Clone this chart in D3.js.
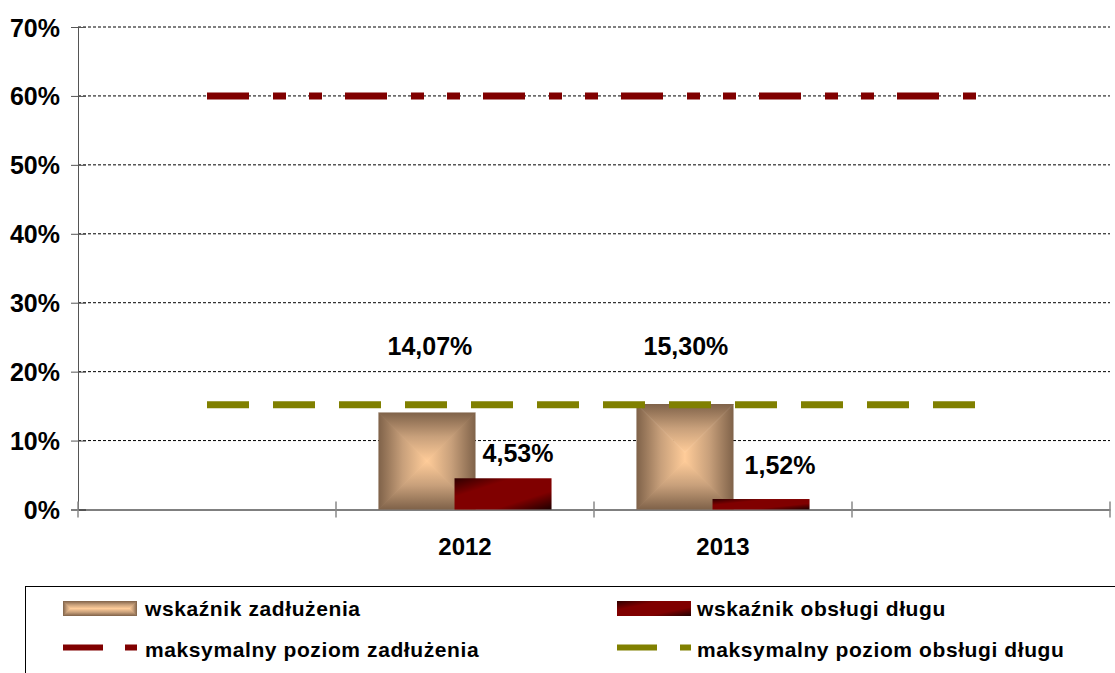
<!DOCTYPE html>
<html>
<head>
<meta charset="utf-8">
<script src="https://cdn.jsdelivr.net/npm/d3@7"></script>
<style>
  body { margin: 0; background: #fff; }
  text { font-family: "Liberation Sans", Arial, sans-serif; font-weight: bold; fill: #000; }
</style>
</head>
<body>
<div id="chart"></div>
<script>
// data
const CATEGORIES = ['', '2012', '2013', ' '];
const DEBT_RATIO = [null, 14.07, 15.30, null];      // wskaźnik zadłużenia
const SERVICE_RATIO = [null, 4.53, 1.52, null];     // wskaźnik obsługi długu
const MAX_DEBT = [60, 60, 60, 60];                  // maksymalny poziom zadłużenia
const MAX_SERVICE = [15.2, 15.2, 15.2, 15.2];       // maksymalny poziom obsługi długu
const Y_TICKS = [0, 10, 20, 30, 40, 50, 60, 70];
const SERIES_NAMES = ['wskaźnik zadłużenia', 'wskaźnik obsługi długu',
                      'maksymalny poziom zadłużenia', 'maksymalny poziom obsługi długu'];

const width = 1115, height = 673;
const plot = { left: 78, right: 1110, top: 27, bottom: 509.5 };

const pl = d3.formatLocale({ decimal: ',', thousands: ' ', grouping: [3], currency: ['', ' zł'] });
const fmt = pl.format('.2f');

const x = d3.scaleBand().domain(CATEGORIES).range([plot.left, plot.right]).padding(0);
const y = d3.scaleLinear().domain([0, 70]).range([plot.bottom, plot.top]);

const svg = d3.select('#chart').append('svg')
  .attr('width', width).attr('height', height);

const defs = svg.append('defs');

// pyramid ("from centre") gradient pieces
const EDGE = '#7f6249', HALF = '#c8a07b', MID = '#ffcc99';
function lin(id, x1, y1, x2, y2) {
  const g = defs.append('linearGradient').attr('id', id)
    .attr('x1', x1).attr('y1', y1).attr('x2', x2).attr('y2', y2);
  g.append('stop').attr('offset', 0).attr('stop-color', EDGE);
  g.append('stop').attr('offset', 0.5).attr('stop-color', HALF);
  g.append('stop').attr('offset', 1).attr('stop-color', MID);
}
lin('pTop', 0, 0, 0, 1);
lin('pBot', 0, 1, 0, 0);
lin('pLeft', 0, 0, 1, 0);
lin('pRight', 1, 0, 0, 0);

const red = defs.append('linearGradient').attr('id', 'redDiag')
  .attr('x1', 0).attr('y1', 0).attr('x2', 1).attr('y2', 1);
[[0, '#2e0000'], [0.3, '#800000'], [0.7, '#800000'], [1, '#1e0000']].forEach(s =>
  red.append('stop').attr('offset', s[0]).attr('stop-color', s[1]));

function pyramid(g, x0, y0, x1, y1) {
  const d = Math.min(x1 - x0, y1 - y0) / 2;
  const parts = [
    ['pTop', [[x0, y0], [x1, y0], [x1 - d, y0 + d], [x0 + d, y0 + d]]],
    ['pBot', [[x0, y1], [x1, y1], [x1 - d, y1 - d], [x0 + d, y1 - d]]],
    ['pLeft', [[x0, y0], [x0 + d, y0 + d], [x0 + d, y1 - d], [x0, y1]]],
    ['pRight', [[x1, y0], [x1 - d, y0 + d], [x1 - d, y1 - d], [x1, y1]]]
  ];
  const clip = 'pc' + Math.round(x0) + '_' + Math.round(y0);
  defs.append('clipPath').attr('id', clip).append('rect')
    .attr('x', x0).attr('y', y0).attr('width', x1 - x0).attr('height', y1 - y0);
  const inner = g.append('g').attr('clip-path', `url(#${clip})`);
  parts.forEach(([id, pts]) => inner.append('polygon')
    .attr('points', pts.map(p => p.join(',')).join(' '))
    .attr('fill', `url(#${id})`).attr('stroke', `url(#${id})`).attr('stroke-width', 0.8));
}

// gridlines
svg.append('g').selectAll('line').data(Y_TICKS.filter(t => t > 0)).join('line')
  .attr('x1', plot.left).attr('x2', plot.right)
  .attr('y1', d => y(d)).attr('y2', d => y(d))
  .attr('stroke', '#000').attr('stroke-width', 1).attr('stroke-dasharray', '3,2');

// y axis
const yAxis = svg.append('g').attr('transform', `translate(${plot.left},0)`)
  .call(d3.axisLeft(y).tickValues(Y_TICKS).tickFormat(d => d + '%').tickSize(7).tickPadding(10));
yAxis.select('.domain').attr('stroke', '#555');
yAxis.selectAll('.tick line').attr('stroke', '#555').attr('x2', 8).attr('x1', -7);
yAxis.selectAll('.tick text').attr('font-size', 25).attr('x', -18).attr('dy', '0.36em')
  .style('font-family', '"Liberation Sans", Arial, sans-serif').style('font-weight', 'bold');

// x axis
const xAxis = svg.append('g').attr('transform', `translate(0,${plot.bottom})`)
  .call(d3.axisBottom(x).tickSize(0).tickPadding(28));
xAxis.select('.domain').attr('stroke', '#000');
xAxis.selectAll('.tick text').attr('font-size', 24).attr('dy', '0.71em')
  .style('font-family', '"Liberation Sans", Arial, sans-serif').style('font-weight', 'bold');
const edges = CATEGORIES.map(c => x(c)).concat([x.range()[1]]);
svg.append('g').selectAll('line').data(edges).join('line')
  .attr('x1', d => d).attr('x2', d => d)
  .attr('y1', plot.bottom - 8).attr('y2', plot.bottom + 8)
  .attr('stroke', '#888').attr('stroke-width', 1.5);

// bars
const barW = x.bandwidth() * 0.376;
const step = barW * 0.784;
const bars = svg.append('g');
CATEGORIES.forEach((c, i) => {
  const cx = x(c) + x.bandwidth() / 2;
  if (DEBT_RATIO[i] != null) {
    const x0 = cx - (barW + step) / 2;
    pyramid(bars.append('g'), x0, y(DEBT_RATIO[i]), x0 + barW, y(0));
  }
});
bars.selectAll('rect.service').data(CATEGORIES.map((c, i) => ({ c, v: SERVICE_RATIO[i] })).filter(d => d.v != null))
  .join('rect').attr('class', 'service')
  .attr('x', d => x(d.c) + x.bandwidth() / 2 - (barW + step) / 2 + step)
  .attr('y', d => y(d.v)).attr('width', barW).attr('height', d => y(0) - y(d.v))
  .attr('fill', 'url(#redDiag)');

// limit lines
const line = d3.line().x((d, i) => x(CATEGORIES[i]) + x.bandwidth() / 2).y(d => y(d));
svg.append('path').datum(MAX_DEBT).attr('d', line)
  .attr('fill', 'none').attr('stroke', '#800000').attr('stroke-width', 7)
  .attr('stroke-dasharray', '42,24,13,23,13,23');
svg.append('path').datum(MAX_SERVICE).attr('d', line)
  .attr('fill', 'none').attr('stroke', '#808000').attr('stroke-width', 7)
  .attr('stroke-dasharray', '42,24');

// data labels (placed as in the original, nudged away from the bars)
const debtNudge = [null, [3, -58], [1, -49], null];
const serviceNudge = [null, [15, -16], [19, -25], null];
const labels = svg.append('g').attr('font-size', 25).attr('text-anchor', 'middle');
CATEGORIES.forEach((c, i) => {
  const cx = x(c) + x.bandwidth() / 2;
  const x0 = cx - (barW + step) / 2;
  if (DEBT_RATIO[i] != null) {
    labels.append('text')
      .attr('x', x0 + barW / 2 + debtNudge[i][0]).attr('y', y(DEBT_RATIO[i]) + debtNudge[i][1])
      .text(fmt(DEBT_RATIO[i]) + '%');
  }
  if (SERVICE_RATIO[i] != null) {
    labels.append('text')
      .attr('x', x0 + step + barW / 2 + serviceNudge[i][0]).attr('y', y(SERVICE_RATIO[i]) + serviceNudge[i][1])
      .text(fmt(SERVICE_RATIO[i]) + '%');
  }
});

// legend
const lg = svg.append('g');
lg.append('rect').attr('x', 25.5).attr('y', 586.5).attr('width', 1200).attr('height', 200)
  .attr('fill', 'none').attr('stroke', '#000').attr('stroke-width', 1);
const cols = [63, 617], rows = [601, 647.5], textX = [145, 697];
// swatches
pyramid(lg.append('g'), cols[0], rows[0], cols[0] + 74, rows[0] + 15);
lg.append('rect').attr('x', cols[1]).attr('y', rows[0]).attr('width', 74).attr('height', 15)
  .attr('fill', 'url(#redDiag)');
lg.append('line').attr('x1', cols[0]).attr('x2', cols[0] + 74).attr('y1', rows[1]).attr('y2', rows[1])
  .attr('stroke', '#800000').attr('stroke-width', 6).attr('stroke-dasharray', '40,22,12,22');
lg.append('line').attr('x1', cols[1]).attr('x2', cols[1] + 74).attr('y1', rows[1]).attr('y2', rows[1])
  .attr('stroke', '#808000').attr('stroke-width', 6).attr('stroke-dasharray', '40,23');
const legendPos = [[0, 0], [1, 0], [0, 1], [1, 1]];
lg.selectAll('text.lab').data(SERIES_NAMES).join('text').attr('class', 'lab')
  .attr('x', (d, i) => textX[legendPos[i][0]])
  .attr('y', (d, i) => [616, 657][legendPos[i][1]])
  .attr('font-size', 21).attr('letter-spacing', 0.6)
  .text(d => d);
</script>
</body>
</html>
